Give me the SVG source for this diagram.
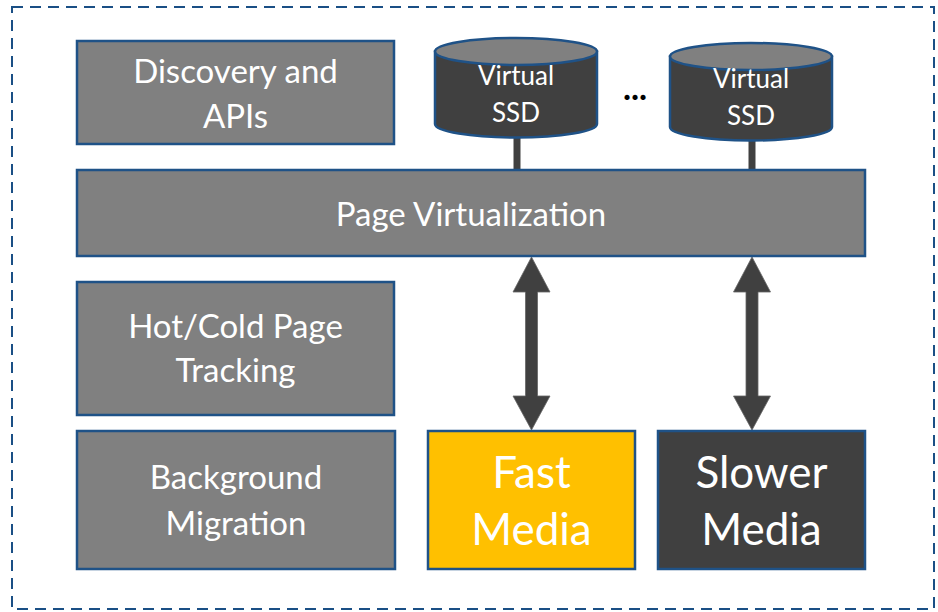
<svg xmlns="http://www.w3.org/2000/svg" width="938" height="612" viewBox="0 0 938 612">
<style>
.box{stroke:#1f5287;stroke-width:2.5}
.gray{fill:#808080}
.dark{fill:#404040}
.yellow{fill:#ffc000}
.t{font-family:Lato,"Liberation Sans",sans-serif;fill:#ffffff;text-anchor:middle}
.t31{font-size:33px}
.t42{font-size:44px}
.t24{font-size:26px}
.arrow{fill:#404040;stroke:#666;stroke-width:0.8}
.link{stroke:#404040;stroke-width:7}
</style>
<rect x="12" y="7" width="922" height="602" fill="none" stroke="#1a4f85" stroke-width="2" stroke-dasharray="11,7"/>
<g id="connectors">
<line class="link" x1="517" y1="135" x2="517" y2="170"/>
<line class="link" x1="752" y1="138" x2="752" y2="170"/>
<path class="arrow" d="M531.5,257 L550,292 L537.5,292 L537.5,396 L550,396 L531.5,430 L513,396 L525.5,396 L525.5,292 L513,292 Z"/>
<path class="arrow" d="M752,257 L770.5,292 L758,292 L758,396 L770.5,396 L752,430 L733.5,396 L746,396 L746,292 L733.5,292 Z"/>
</g>
<g id="discovery">
<rect class="box gray" x="77" y="41" width="317" height="103"/>
<text class="t t31" x="235.5" y="83">Discovery and</text>
<text class="t t31" x="235.5" y="128">APIs</text>
</g>
<g id="ssd1">
<path class="box dark" d="M435,51.5 L435,124 A81,13.5 0 0 0 597,124 L597,51.5 Z"/>
<ellipse class="box gray" cx="516" cy="51.5" rx="81" ry="13.5"/>
<text class="t t24" x="516" y="85">Virtual</text>
<text class="t t24" x="516" y="122">SSD</text>
</g>
<g id="ellipsis">
<text x="635" y="100" font-family="Lato,'Liberation Sans',sans-serif" font-size="34" font-weight="bold" fill="#000" text-anchor="middle">...</text>
</g>
<g id="ssd2">
<path class="box dark" d="M670,56.5 L670,127 A81,13.5 0 0 0 832,127 L832,56.5 Z"/>
<ellipse class="box gray" cx="751" cy="56.5" rx="81" ry="13.5"/>
<text class="t t24" x="751" y="88">Virtual</text>
<text class="t t24" x="751" y="125">SSD</text>
</g>
<g id="page-virtualization">
<rect class="box gray" x="77" y="170" width="788" height="86"/>
<text class="t t31" x="471" y="226">Page Virtualization</text>
</g>
<g id="hotcold">
<rect class="box gray" x="77" y="282" width="317" height="133"/>
<text class="t t31" x="235.5" y="338">Hot/Cold Page</text>
<text class="t t31" x="235.5" y="382">Tracking</text>
</g>
<g id="background">
<rect class="box gray" x="77" y="431" width="318" height="138"/>
<text class="t t31" x="236" y="489">Background</text>
<text class="t t31" x="236" y="535">Migration</text>
</g>
<g id="fast">
<rect class="box yellow" x="428" y="431" width="207" height="138"/>
<text class="t t42" x="531.5" y="488">Fast</text>
<text class="t t42" x="531.5" y="545">Media</text>
</g>
<g id="slower">
<rect class="box dark" x="658" y="431" width="207" height="138"/>
<text class="t t42" x="761.5" y="488">Slower</text>
<text class="t t42" x="761.5" y="545">Media</text>
</g>
</svg>
